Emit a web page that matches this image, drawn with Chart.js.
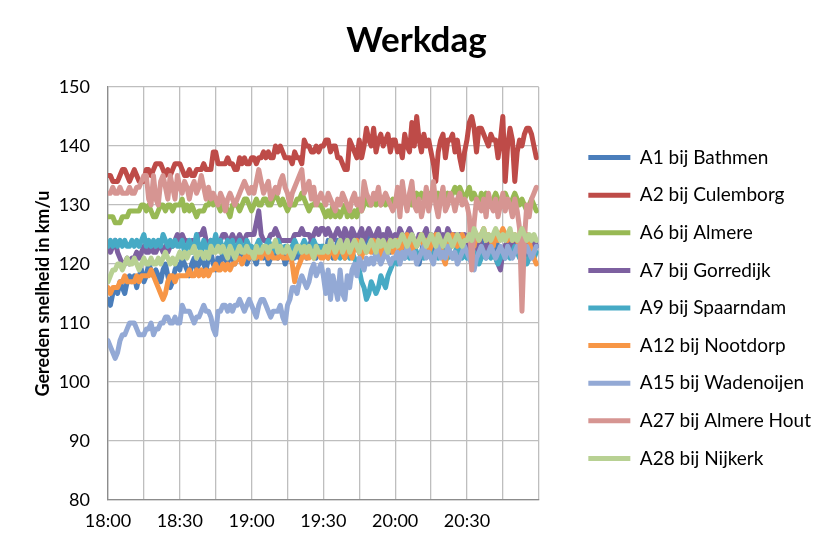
<!DOCTYPE html>
<html>
<head>
<meta charset="utf-8">
<title>Werkdag</title>
<script src="https://cdn.jsdelivr.net/npm/chart.js@4.4.1/dist/chart.umd.min.js"></script>
<style>
    html, body { margin: 0; padding: 0; background: #fff; }
    #wrap { position: relative; width: 830px; height: 552px; }
</style>
</head>
<body>
<div id="wrap"><canvas id="werkdag"></canvas></div>
<script>
// x-as: minuten na 18:00 (1 waarde per minuut)
const tickLabels = ["18:00", "18:30", "19:00", "19:30", "20:00", "20:30"];

const seriesNames = [
    "A1 bij Bathmen", "A2 bij Culemborg", "A6 bij Almere", "A7 bij Gorredijk",
    "A9 bij Spaarndam", "A12 bij Nootdorp", "A15 bij Wadenoijen",
    "A27 bij Almere Hout", "A28 bij Nijkerk",
];
const seriesColors = [
    "#4A7EBB", "#BE4B48", "#98B954", "#7D60A0", "#46AAC5",
    "#F79646", "#93A9D5", "#D69592", "#B8D193",
];

const a1 = [
    114,113,115,116,115,117,116,115,117,118, 117,118,116,118,119,117,118,120,119,118,
    119,118,117,119,120,118,116,117,119,120, 119,121,120,119,118,120,121,119,120,121,
    120,119,121,122,120,119,121,120,122,121, 120,122,121,120,122,121,123,122,120,121,
    122,121,120,122,123,121,122,120,121,123, 122,121,123,122,120,121,122,123,121,122,
    121,123,122,121,123,124,122,121,123,122, 123,122,124,123,121,122,124,123,122,124,
    123,122,124,125,123,122,124,123,125,124, 123,122,124,123,121,122,123,124,122,123,
    124,123,125,124,122,123,125,124,123,121, 120,122,124,123,125,124,122,123,124,122,
    123,124,122,123,125,124,123,122,124,123, 122,124,123,122,121,123,124,122,123,124,
    123,122,124,123,122,121,123,124,122,123, 124,123,122,124,123,122,121,123,124,123,
];
const a2 = [
    135,135,134,134,134,135,136,136,135,134, 135,136,135,134,134,134,136,136,135,136,
    137,137,137,136,135,136,135,136,137,137, 137,136,135,135,136,135,135,136,136,136,
    137,136,136,136,139,139,137,137,137,137, 138,137,137,136,136,138,137,138,137,137,
    138,138,137,138,138,139,138,139,138,138, 140,139,140,139,138,138,138,137,139,138,
    138,137,141,140,140,139,139,140,139,140, 140,141,141,139,140,140,138,138,137,136,
    136,141,140,139,138,141,138,140,143,141, 140,143,139,141,142,140,141,142,139,141,
    141,139,140,138,142,140,139,144,140,145, 141,139,142,140,141,139,137,134,139,141,
    142,138,141,141,142,139,141,138,136,139, 141,144,145,143,139,143,143,142,141,140,
    142,141,141,138,141,145,134,140,143,141, 134,139,141,140,142,143,143,142,140,138,
];
const a6 = [
    128,128,128,127,127,127,128,128,128,129, 129,129,129,129,130,130,129,130,129,128,
    128,129,130,130,129,130,130,129,130,130, 130,131,129,130,129,130,129,128,129,129,
    129,130,130,131,130,131,130,129,130,130, 129,128,130,130,130,129,130,131,131,130,
    129,130,131,130,130,131,131,130,130,131, 132,131,130,131,130,129,130,130,130,131,
    131,132,131,130,129,130,130,131,130,130, 129,128,129,128,130,128,129,128,129,130,
    128,129,128,129,128,130,129,130,131,130, 130,131,130,131,130,131,130,131,130,131,
    130,131,130,131,131,130,131,130,131,132, 131,132,131,130,132,131,132,131,132,131,
    132,131,132,131,132,133,132,133,132,131, 132,133,131,132,131,130,132,131,132,131,
    130,131,132,131,130,131,132,131,130,131, 132,131,130,131,130,129,130,131,130,129,
];
const a7 = [
    123,122,123,124,122,121,120,120,121,120, 121,121,122,121,122,123,122,122,123,122,
    122,123,123,122,123,122,123,123,124,125, 124,125,124,124,123,124,124,124,125,125,
    126,124,123,124,123,124,123,124,125,125, 124,124,125,124,124,125,124,124,125,125,
    125,125,127,129,125,124,124,124,125,125, 126,125,124,124,124,124,124,124,125,125,
    125,126,125,125,125,124,125,126,125,126, 126,125,126,125,124,125,126,125,124,126,
    125,124,126,125,124,125,126,124,125,126, 125,124,125,126,124,125,124,126,125,124,
    125,124,126,125,124,125,126,125,124,123, 125,124,125,126,124,125,124,125,126,124,
    125,124,126,125,124,125,124,125,124,125, 124,123,124,123,122,124,123,122,123,124,
    123,122,121,120,119,122,123,124,123,122, 124,123,122,123,124,123,122,123,124,123,
];
const a9 = [
    123,124,123,124,123,124,123,124,123,123, 124,123,124,123,124,125,123,124,123,124,
    123,124,123,125,124,123,124,123,124,123, 123,124,122,123,124,122,123,125,123,122,
    124,123,122,124,123,125,123,124,122,123, 124,123,124,122,123,124,123,122,124,123,
    123,122,123,124,123,122,123,124,123,122, 123,124,123,122,123,123,122,123,124,123,
    122,123,124,123,122,123,124,123,122,123, 123,122,121,123,122,121,122,121,122,121,
    122,121,122,121,120,119,117,116,114,115, 117,116,115,116,118,117,116,118,119,120,
    121,120,121,122,121,122,121,122,123,122, 121,122,121,122,123,122,121,122,121,122,
    123,122,121,122,121,122,123,122,121,122, 121,122,121,122,121,120,121,122,121,122,
    121,122,121,120,121,122,121,122,121,122, 123,122,121,122,121,120,121,122,121,122,
];
const a12 = [
    116,115,116,116,116,117,117,118,117,117, 117,117,118,117,118,118,118,118,119,118,
    117,116,115,114,115,117,118,118,117,118, 118,118,118,118,119,118,118,119,118,119,
    118,119,118,119,119,120,119,119,120,119, 120,119,120,120,121,121,120,121,122,121,
    122,121,121,122,121,122,122,121,122,121, 121,121,122,121,121,121,122,120,117,119,
    120,121,122,121,121,122,121,122,122,121, 121,122,121,123,122,121,122,123,122,121,
    123,122,121,123,124,122,121,123,122,123, 122,124,123,122,121,123,122,123,124,122,
    123,124,122,123,124,125,123,122,124,123, 124,125,123,124,122,123,124,125,124,123,
    121,120,123,124,125,124,123,124,125,124, 124,125,124,123,125,124,125,126,124,125,
    124,123,125,124,125,126,125,124,125,124, 125,124,123,125,124,125,124,122,121,120,
];
const a15 = [
    107,106,105,104,105,107,108,108,109,110, 110,110,109,108,108,108,109,109,110,108,
    109,109,110,110,111,111,110,110,111,110, 110,113,112,112,112,111,110,111,111,112,
    113,112,112,111,109,108,112,112,113,113, 112,113,112,113,113,114,113,112,113,114,
    113,112,111,113,114,114,113,112,111,112, 112,112,113,111,110,113,114,116,116,115,
    117,118,117,116,117,119,120,118,119,120, 118,115,119,114,118,116,114,119,115,114,
    118,116,119,120,118,121,120,119,121,120, 121,120,122,121,120,121,122,121,120,121,
    121,122,120,122,121,123,122,121,122,120, 121,122,123,121,122,121,120,122,123,121,
    122,121,123,122,121,122,120,121,122,123, 122,121,120,119,121,122,123,122,121,122,
    123,122,121,122,123,122,121,123,122,121, 122,123,122,121,122,123,122,121,122,123,
];
const a27 = [
    132,132,133,132,132,133,132,132,132,133, 132,132,133,133,134,135,135,131,130,135,
    131,130,134,135,133,131,135,133,131,135, 133,132,134,133,131,133,134,132,133,135,
    133,131,133,131,132,131,130,132,131,129, 131,132,131,130,131,132,133,134,133,132,
    133,132,134,136,134,132,133,134,131,132, 133,132,134,135,133,132,130,132,133,134,
    135,136,132,133,134,131,133,130,131,132, 131,130,132,131,130,129,131,130,132,131,
    130,129,131,132,130,131,129,134,132,131, 130,132,131,133,130,131,132,131,130,129,
    130,133,128,134,131,129,132,134,130,129, 131,128,130,133,129,131,134,130,128,131,
    133,129,130,132,131,129,131,132,130,131, 130,128,119,127,131,130,129,131,128,132,
    130,129,131,128,130,132,129,131,130,128, 131,129,126,112,124,130,128,131,132,133,
];
const a28 = [
    117,118,119,119,120,120,119,120,121,120, 120,121,120,119,120,121,120,120,121,120,
    120,121,120,121,122,121,120,121,120,121, 122,121,122,121,122,122,123,121,122,122,
    121,122,121,123,122,122,123,122,123,122, 121,123,122,121,122,123,122,122,123,122,
    122,121,123,122,122,123,123,122,123,123, 124,122,123,122,122,123,122,121,122,123,
    123,122,123,122,123,122,121,123,122,122, 122,123,122,124,123,122,123,124,122,123,
    124,122,123,124,123,122,124,123,122,123, 124,123,122,124,123,124,123,122,124,123,
    124,123,124,125,124,123,124,125,124,123, 124,125,124,123,124,125,124,123,125,124,
    123,124,125,124,123,124,125,124,123,124, 124,125,124,126,125,124,125,126,124,125,
    124,125,126,125,124,125,124,125,126,124, 125,124,125,126,125,124,125,124,125,124,
];

const seriesValues = [a1, a2, a6, a7, a9, a12, a15, a27, a28];

const baseFont = "Lato, 'Open Sans', sans-serif";

const datasets = seriesValues.map((values, i) => ({
    label: seriesNames[i],
    data: values.map((v, m) => ({ x: m, y: v })),
    borderColor: seriesColors[i],
    backgroundColor: seriesColors[i],
    borderWidth: 5,
    borderJoinStyle: "round",
    borderCapStyle: "round",
    pointRadius: 0,
    tension: 0,
    order: seriesValues.length - i, // laatste serie bovenop, zoals in Excel
}));

const ctx = document.getElementById("werkdag");

new Chart(ctx, {
    type: "line",
    data: { datasets: datasets },
    options: {
        responsive: true,
        maintainAspectRatio: false,
        animation: false,
        layout: {
            padding: { left: 12, right: 9, top: 0, bottom: 8 },
        },
        scales: {
            x: {
                type: "linear",
                min: 0,
                max: 180,
                afterFit: (scale) => {
                    scale.height = 44;
                },
                ticks: {
                    stepSize: 15,
                    autoSkip: false,
                    maxRotation: 0,
                    padding: 10,
                    color: "#000",
                    font: { family: baseFont, size: 18 },
                    callback: (value) =>
                        value % 30 === 0 && tickLabels[value / 30] ? tickLabels[value / 30] : "",
                },
                grid: { color: "#BEBEBE", lineWidth: 1.3, drawTicks: false },
                border: { color: "#8C8C8C", width: 1.3 },
            },
            y: {
                min: 80,
                max: 150,
                afterFit: (scale) => {
                    scale.width = 96;
                },
                ticks: {
                    stepSize: 10,
                    padding: 18,
                    color: "#000",
                    font: { family: baseFont, size: 18 },
                },
                grid: { color: "#BEBEBE", lineWidth: 1.3, drawTicks: false },
                border: { color: "#8C8C8C", width: 1.3 },
                title: {
                    display: true,
                    text: "Gereden snelheid in km/u",
                    color: "#000",
                    font: { family: baseFont, size: 18, weight: "bold" },
                    padding: { top: 20, bottom: 0 },
                },
            },
            // lege ruimte tussen grafiek en legenda
            gap: {
                position: "right",
                display: true,
                grid: { display: false },
                border: { display: false },
                ticks: { display: false },
                afterFit: (scale) => {
                    scale.width = 31;
                },
            },
        },
        plugins: {
            title: {
                display: true,
                text: "Werkdag",
                color: "#000",
                font: { family: baseFont, size: 35, weight: "bold" },
                padding: { top: 20, bottom: 25 },
            },
            legend: {
                position: "right",
                align: "center",
                maxWidth: 300,
                // lege legendatitel schuift de items omlaag
                title: {
                    display: true,
                    text: "",
                    font: { size: 12 },
                    padding: { top: 57.6, bottom: 0 },
                },
                labels: {
                    usePointStyle: true,
                    pointStyle: "line",
                    pointStyleWidth: 42,
                    padding: 18.6,
                    color: "#000",
                    font: { family: baseFont, size: 19 },
                    sort: (a, b) => a.datasetIndex - b.datasetIndex,
                },
            },
            tooltip: { enabled: false },
        },
    },
});
</script>
</body>
</html>
